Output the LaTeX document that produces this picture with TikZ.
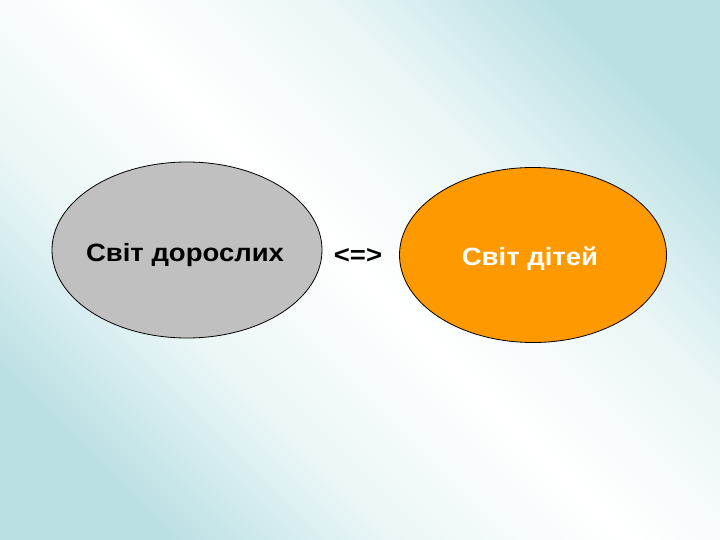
\documentclass[tikz,border=0pt]{standalone}
\usepackage{fontspec}
\setmainfont[FakeStretch=1.1]{Liberation Sans}
\usetikzlibrary{shapes.geometric}
\definecolor{bgteal}{RGB}{186,224,228}
\colorlet{bgmid}{bgteal!28!white}
\definecolor{ovgray}{RGB}{192,192,192}
\definecolor{ovorange}{RGB}{255,153,0}
\pgfdeclareverticalshading{bgshade}{100bp}{color(0bp)=(bgteal); color(24bp)=(bgteal); color(37bp)=(bgmid); color(50bp)=(white); color(63bp)=(bgmid); color(76bp)=(bgteal); color(100bp)=(bgteal)}
\tikzset{
  oval/.style={ellipse, draw=black, line width=0.8pt, inner sep=0pt},
  lbl/.style={font=\fontsize{25}{28}\selectfont\bfseries, anchor=base}
}
\begin{document}
\begin{tikzpicture}[x=1pt,y=-1pt]
\useasboundingbox (0,0) rectangle (720,540);
\shade[shading=bgshade, shading angle=-45] (0,0) rectangle (720,540);
\node[oval, fill=ovgray, minimum width=270pt, minimum height=176pt] (adult) at (187,250) {};
\node[lbl, text=black] (adultt) at (185,261) {Світ дорослих};
\node[oval, fill=ovorange, minimum width=267pt, minimum height=175pt] (child) at (533,255) {};
\node[lbl, text=white] (childt) at (530,265) {Світ дітей};
\node[lbl, text=black] (eq) at (358,263) {<=>};
\end{tikzpicture}
\end{document}
